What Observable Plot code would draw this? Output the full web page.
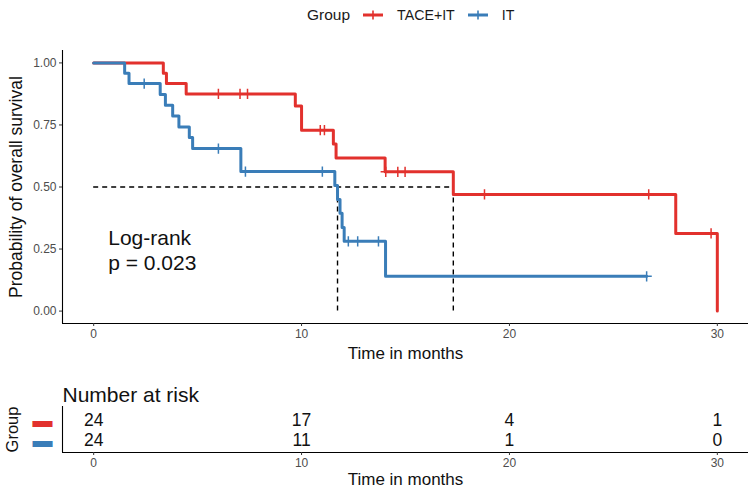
<!DOCTYPE html>
<html><head><meta charset="utf-8">
<script src="https://cdn.jsdelivr.net/npm/d3@7"></script>
<script src="https://cdn.jsdelivr.net/npm/@observablehq/plot@0.6"></script>
<style>
body{margin:0;background:#fff;font-family:"Liberation Sans",Arial,sans-serif;}
#wrap{position:relative;width:750px;height:491px;overflow:hidden;background:#fff}
#legend{position:absolute;left:307px;top:3px;height:24px;display:flex;align-items:center;color:#1a1a1a;white-space:nowrap}
#legend .t{font-size:15.5px;margin-right:13px}
#legend .l{font-size:14.2px;margin:0 13px 0 14px}
#main{position:absolute;left:0;top:30px}
#risk{position:absolute;left:0;top:370px}
</style></head><body>
<div id="wrap"><div id="legend"></div><div id="main"></div><div id="risk"></div></div>
<script>
// ---- data ----
const groups = ["TACE+IT", "IT"];
const groupColors = ["#E2312D", "#3A7DB8"];

const redTimes = [0, 3.35, 3.5, 4.45, 9.7, 10.0, 11.53, 11.66, 14.02, 17.3, 28.0, 30.0];
const redSurv  = [1, 0.958, 0.917, 0.875, 0.826, 0.729, 0.673, 0.617, 0.561, 0.47, 0.313, 0];
const redCensor = [6.0, 7.04, 7.4, 10.9, 11.1, 14.05, 14.63, 14.98, 18.8, 26.7, 29.7];

const blueTimes = [0, 1.49, 1.7, 3.2, 3.45, 3.8, 4.1, 4.6, 4.76, 7.08, 11.6, 11.73, 11.85, 11.95, 12.05, 14.04, 26.6];
const blueSurv  = [1, 0.958, 0.917, 0.873, 0.829, 0.786, 0.742, 0.699, 0.655, 0.562, 0.506, 0.45, 0.394, 0.337, 0.281, 0.14, 0.14];
const blueCensor = [2.43, 6.0, 7.3, 11.0, 12.25, 12.7, 13.7, 26.6];

const medianTimes = [11.73, 17.3];
const medianLevel = 0.5;

const riskTimes = [0, 10, 20, 30];
const riskRed  = [24, 17, 4, 1];
const riskBlue = [24, 11, 1, 0];

const xTicks = [0, 10, 20, 30];
const yTicks = [0, 0.25, 0.5, 0.75, 1];
const pvalText = "Log-rank\np = 0.023";
const pvalCoord = [0.7, 0.25];

// ---- build tables ----
const curves = [[redTimes, redSurv, redCensor], [blueTimes, blueSurv, blueCensor]];
const steps = [], censors = [];
curves.forEach(([ts, ss, cs], gi) => {
  ts.forEach((t, i) => steps.push({group: groups[gi], time: t, surv: ss[i]}));
  cs.forEach(c => {
    let s = ss[0];
    ts.forEach((t, i) => { if (t <= c) s = ss[i]; });
    censors.push({group: groups[gi], time: c, surv: s});
  });
});
const risk = [];
[riskRed, riskBlue].forEach((arr, gi) => arr.forEach((n, i) => risk.push({group: groups[gi], row: gi, time: riskTimes[i], n})));

const xDomain = [-1.5, 31.5];
const font = "Liberation Sans, Arial, sans-serif";
const color = {domain: groups, range: groupColors};

// ---- legend ----
const lg = document.getElementById("legend");
let html = '<span class="t">Group</span>';
groups.forEach((g, i) => {
  html += `<svg width="20" height="12"><line x1="0" y1="6" x2="20" y2="6" stroke="${groupColors[i]}" stroke-width="3"/><line x1="10" y1="1.5" x2="10" y2="10.5" stroke="${groupColors[i]}" stroke-width="1.6"/></svg><span class="l">${g}</span>`;
});
lg.innerHTML = html;

// ---- main KM plot ----
const main = Plot.plot({
  width: 750, height: 340,
  marginLeft: 62, marginRight: 2, marginTop: 20, marginBottom: 47,
  style: {fontFamily: font, background: "#fff"},
  x: {domain: xDomain, axis: null},
  y: {domain: [-0.05, 1.05], axis: null},
  color,
  marks: [
    Plot.ruleY([medianLevel], {x1: 0, x2: d3.max(medianTimes), stroke: "#000", strokeWidth: 1.4, strokeDasharray: "5,4"}),
    Plot.ruleX(medianTimes, {x: d => d, y1: 0, y2: medianLevel, stroke: "#000", strokeWidth: 1.4, strokeDasharray: "5,4"}),
    Plot.line(steps, {x: "time", y: "surv", z: "group", stroke: "group", curve: "step-after", strokeWidth: 3}),
    Plot.dot(censors, {x: "time", y: "surv", stroke: "group", symbol: "plus", r: 3.4, strokeWidth: 1.5}),
    Plot.ruleX([xDomain[0]], {stroke: "#000", strokeWidth: 1.1}),
    Plot.ruleY([-0.05], {stroke: "#000", strokeWidth: 1.1}),
    Plot.axisY({ticks: yTicks, tickFormat: d3.format(".2f"), tickSize: 3, tickPadding: 3, fontSize: 12, fill: "#4D4D4D", stroke: "#333", label: null}),
    Plot.axisX({ticks: xTicks, tickSize: 3, tickPadding: 3, fontSize: 12, fill: "#4D4D4D", stroke: "#333", label: null}),
    Plot.text(["Probability of overall survival"], {frameAnchor: "left", textAnchor: "middle", dx: -46, rotate: -90, fontSize: 17.5, fill: "#111"}),
    Plot.text(["Time in months"], {frameAnchor: "bottom", dy: 35, fontSize: 17, fill: "#111"}),
    Plot.text([pvalText], {x: pvalCoord[0], y: pvalCoord[1], text: d => d, textAnchor: "start", fontSize: 21, lineHeight: 1.2, fill: "#111"})
  ]
});
document.getElementById("main").appendChild(main);

// ---- number at risk table ----
const riskPlot = Plot.plot({
  width: 750, height: 121,
  marginLeft: 62, marginRight: 2, marginTop: 36, marginBottom: 39,
  style: {fontFamily: font, background: "#fff"},
  x: {domain: xDomain, axis: null},
  y: {domain: [-0.7, 1.6], reverse: true, axis: null},
  color,
  marks: [
    Plot.text(risk, {x: "time", y: "row", text: "n", fontSize: 17.5, fill: "#111"}),
    Plot.text(risk.filter(d => d.time === riskTimes[0]), {x: xDomain[0], y: "row", text: () => "\u25AC", fill: "group", dx: -20, fontSize: 20}),
    Plot.ruleX([xDomain[0]], {stroke: "#000", strokeWidth: 1.1}),
    Plot.ruleY([1.6], {stroke: "#000", strokeWidth: 1.1}),
    Plot.axisX({ticks: xTicks, tickSize: 3, tickPadding: 3, fontSize: 12, fill: "#4D4D4D", stroke: "#333", label: null}),
    Plot.text(["Number at risk"], {frameAnchor: "top-left", textAnchor: "start", dy: -19, fontSize: 21, fill: "#111"}),
    Plot.text(["Group"], {frameAnchor: "left", textAnchor: "middle", dx: -50, rotate: -90, fontSize: 16.5, fill: "#111"}),
    Plot.text(["Time in months"], {frameAnchor: "bottom", dy: 32, fontSize: 17, fill: "#111"})
  ]
});
document.getElementById("risk").appendChild(riskPlot);
</script>
</body></html>
